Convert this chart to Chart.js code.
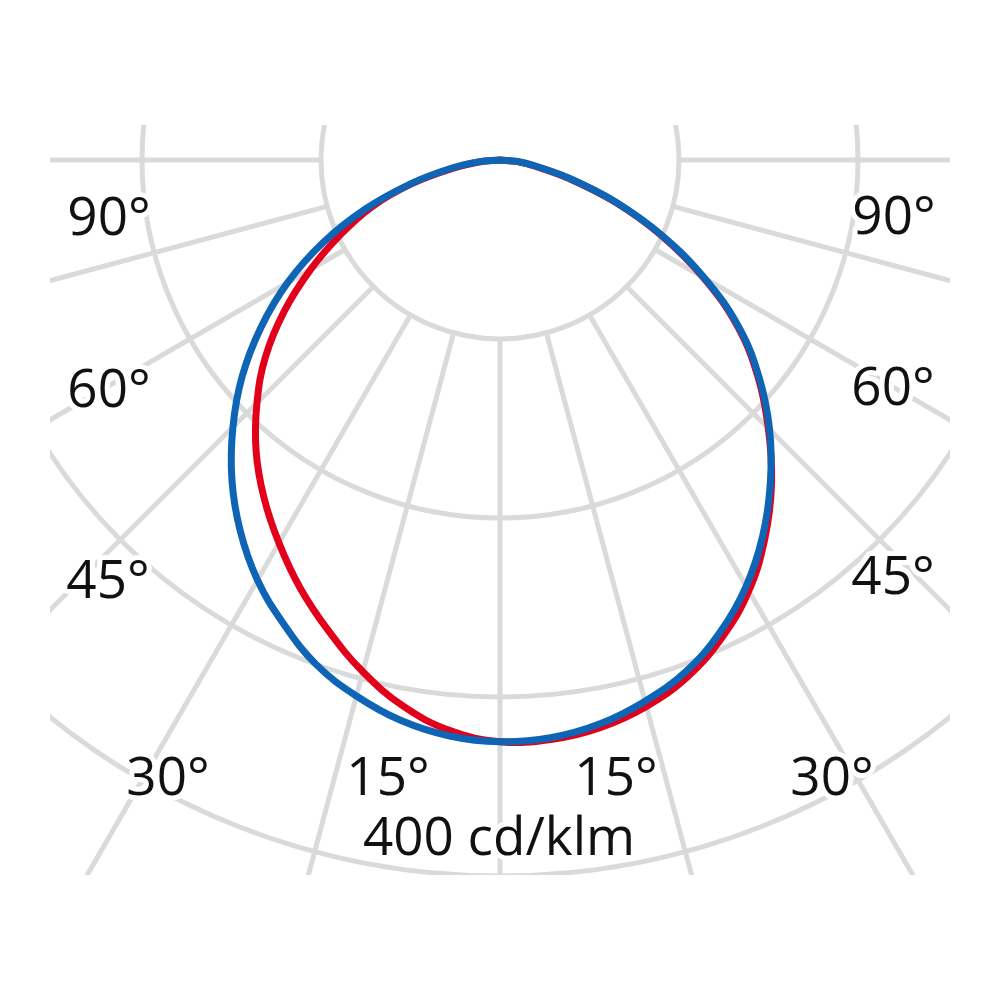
<!DOCTYPE html>
<html>
<head>
<meta charset="utf-8">
<script src="https://cdn.jsdelivr.net/npm/chart.js@4.4.1/dist/chart.umd.min.js"></script>
<style>
html, body { margin: 0; padding: 0; background: #fff; }
#wrap { width: 1000px; height: 1000px; position: relative; }
</style>
</head>
<body>
<div id="wrap"><canvas id="polar" width="1000" height="1000"></canvas></div>
<script>
// 1. ДАННЫЕ (cd/klm, угол от надира, левая половина со знаком минус)
const angles = [-90, -85, -80, -75, -70, -65, -60, -55, -50, -45, -40, -35, -30, -25, -20, -15, -10, -5,
                0, 5, 10, 15, 20, 25, 30, 35, 40, 45, 50, 55, 60, 65, 70, 75, 80, 85, 90];
const redValues = [0, 11, 27, 51, 76, 98, 122, 147, 171, 192, 212, 230, 247, 264, 280, 296, 310, 320,
                   325, 325, 322, 316, 307, 294, 278, 258, 236, 212, 188, 162, 131, 99, 68, 40, 20, 9, 0];
const blueValues = [0, 12, 29, 52, 80, 109, 137, 163, 188, 211, 233, 253, 271, 286, 300, 310, 318, 323,
                    325, 324, 320, 313, 304, 291, 275, 256, 235, 213, 189, 163, 132, 100, 69, 41, 21, 10, 0];
const gridRings = [100, 200, 300, 400];
const gridAngles = [-90, -75, -60, -45, -30, -15, 0, 15, 30, 45, 60, 75, 90];
const angleLabels = ['90°', '60°', '45°', '30°', '15°', '15°', '30°', '45°', '60°', '90°'];
const unitLabel = '400 cd/klm';

// 2. РАСКЛАДКА (пиксели)
const PX_PER_UNIT = 1.79;
const CENTER = { x: 500, y: 160 };
const CLIP = { x: 50, y: 125, w: 900, h: 750 };
const labelPos = [
    { x: 109, y: 235 }, { x: 109, y: 407 }, { x: 108, y: 598 }, { x: 168, y: 795 }, { x: 388, y: 795 },
    { x: 616, y: 795 }, { x: 832, y: 795 }, { x: 893, y: 594 }, { x: 893, y: 405 }, { x: 894, y: 234 }
];
const unitPos = { x: 499, y: 855 };

const toXY = (vals) => angles.map((a, i) => {
    const t = a * Math.PI / 180;
    return { x: vals[i] * Math.sin(t), y: -vals[i] * Math.cos(t) };
});

// 3. СЕТКА
const polarGrid = {
    id: 'polarGrid',
    beforeDatasetsDraw(chart) {
        const { ctx, scales: { x, y } } = chart;
        const cx = x.getPixelForValue(0), cy = y.getPixelForValue(0);
        const rad = v => x.getPixelForValue(v) - cx;
        ctx.save();
        ctx.beginPath();
        ctx.rect(CLIP.x, CLIP.y, CLIP.w, CLIP.h);
        ctx.clip();
        ctx.strokeStyle = '#dadada';
        ctx.lineWidth = 5;
        gridRings.forEach(v => {
            ctx.beginPath();
            ctx.arc(cx, cy, rad(v), 0, Math.PI * 2);
            ctx.stroke();
        });
        const r0 = rad(gridRings[0]), r1 = rad(1000);
        gridAngles.forEach(a => {
            const t = a * Math.PI / 180;
            ctx.beginPath();
            ctx.moveTo(cx + r0 * Math.sin(t), cy + r0 * Math.cos(t));
            ctx.lineTo(cx + r1 * Math.sin(t), cy + r1 * Math.cos(t));
            ctx.stroke();
        });
        ctx.restore();
    }
};

// 4. ПОДПИСИ
const polarLabels = {
    id: 'polarLabels',
    beforeDatasetsDraw(chart) {
        const ctx = chart.ctx;
        ctx.save();
        ctx.font = '53px "Open Sans"';
        ctx.textAlign = 'center';
        ctx.textBaseline = 'alphabetic';
        ctx.lineJoin = 'round';
        const put = (txt, p) => {
            ctx.strokeStyle = '#fff';
            ctx.lineWidth = 10;
            ctx.strokeText(txt, p.x, p.y);
            ctx.fillStyle = '#111';
            ctx.fillText(txt, p.x, p.y);
        };
        angleLabels.forEach((t, i) => put(t, labelPos[i]));
        put(unitLabel, unitPos);
        ctx.restore();
    }
};

// 5. ГРАФИК (первый набор рисуется сверху)
new Chart(document.getElementById('polar'), {
    type: 'scatter',
    data: {
        datasets: [
            { label: 'C90-C270', data: toXY(blueValues), borderColor: '#0e65b5' },
            { label: 'C0-C180', data: toXY(redValues), borderColor: '#e2001a' }
        ]
    },
    options: {
        responsive: false,
        animation: false,
        devicePixelRatio: 1,
        layout: { padding: 0 },
        elements: {
            point: { radius: 0, hoverRadius: 0 },
            line: { borderWidth: 7, tension: 0.4, fill: false, borderCapStyle: 'round', borderJoinStyle: 'round' }
        },
        datasets: { scatter: { showLine: true } },
        plugins: { legend: { display: false }, tooltip: { enabled: false } },
        scales: {
            x: { type: 'linear', display: false, min: -CENTER.x / PX_PER_UNIT, max: (1000 - CENTER.x) / PX_PER_UNIT },
            y: { type: 'linear', display: false, min: -(1000 - CENTER.y) / PX_PER_UNIT, max: CENTER.y / PX_PER_UNIT }
        }
    },
    plugins: [polarGrid, polarLabels]
});
</script>
</body>
</html>
